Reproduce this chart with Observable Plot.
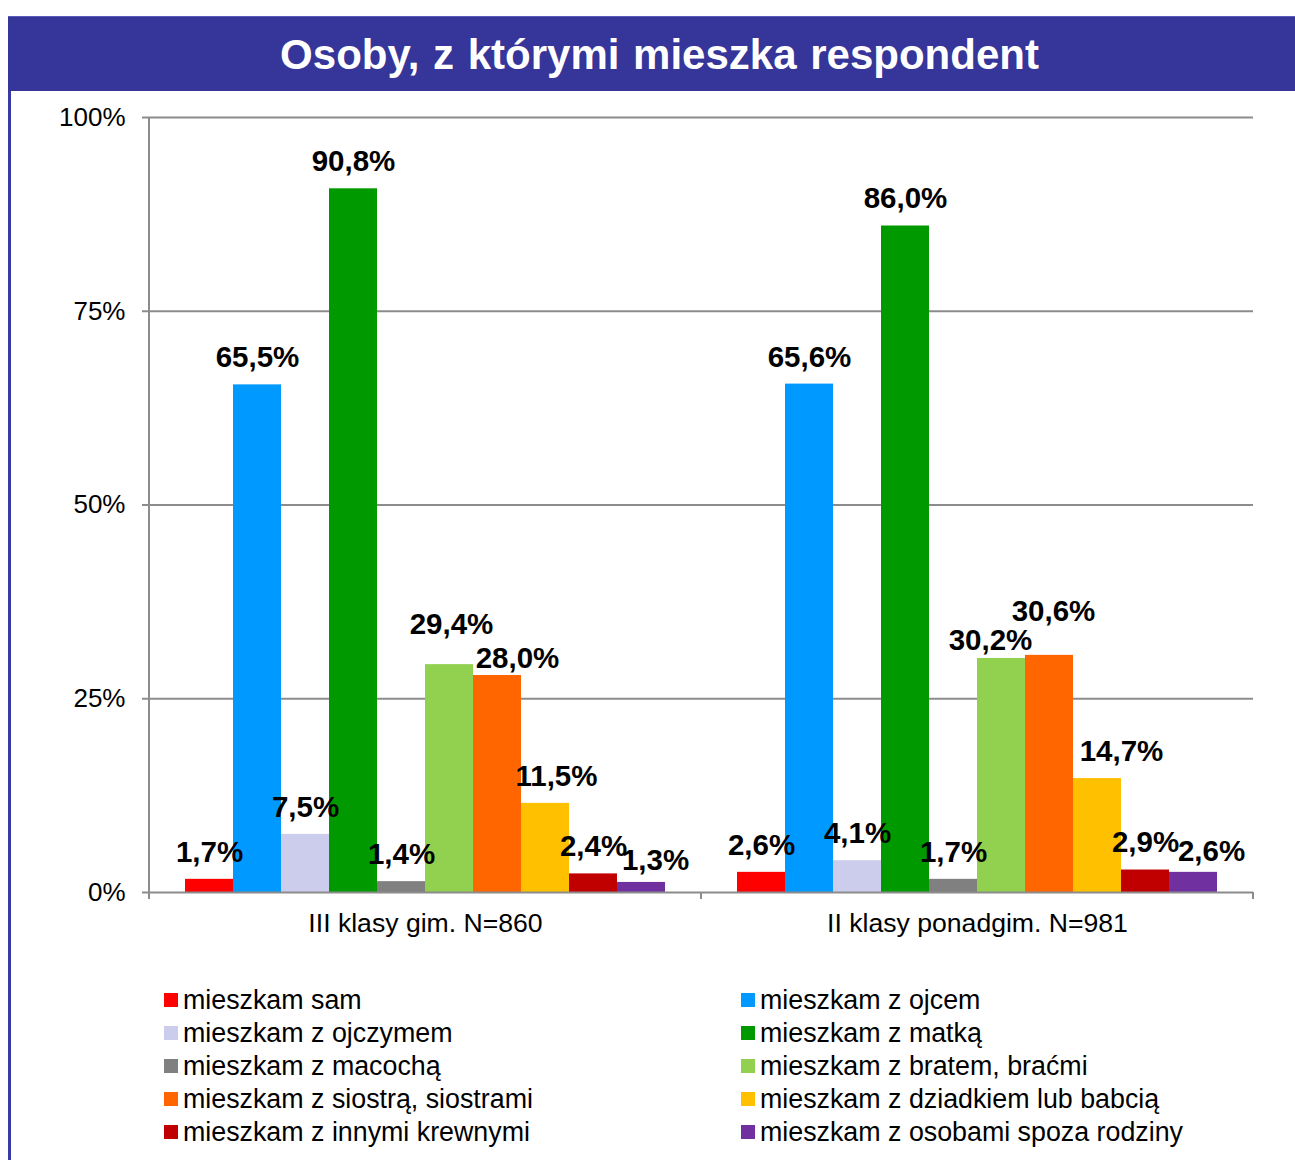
<!DOCTYPE html>
<html>
<head>
<meta charset="utf-8">
<script src="https://cdn.jsdelivr.net/npm/d3@7"></script>
<script src="https://cdn.jsdelivr.net/npm/@observablehq/plot@0.6"></script>
<style>
  html, body { margin: 0; padding: 0; background: #fff; }
  body { width: 1295px; height: 1160px; position: relative; overflow: hidden; font-family: "Liberation Sans", Arial, sans-serif; }
  #titlebar { position: absolute; left: 8px; top: 16px; width: 1287px; height: 75px; padding-left: 16px; background: #35359a; border-top: 1px solid #5a5ab8; box-sizing: border-box; color: #fff; font-weight: bold; font-size: 42px; text-align: center; line-height: 75px; word-spacing: 2px; }
  #leftborder { position: absolute; left: 8px; top: 91px; width: 3px; height: 1069px; background: #3a3aa6; }
  #chart { position: absolute; left: 0; top: 0; }
  .leg { position: absolute; font-size: 26.8px; color: #000; white-space: nowrap; }
  .leg .sw { position: absolute; left: 0; top: 50%; width: 14px; height: 14px; margin-top: -7px; }
  .leg .tx { position: absolute; left: 19px; top: 50%; transform: translateY(-50%); line-height: 1; }
</style>
</head>
<body>
<div id="chart"></div>
<div id="titlebar">Osoby, z którymi mieszka respondent</div>
<div id="leftborder"></div>
<div id="legend"></div>
<script>
const groups = ["III klasy gim. N=860", "II klasy ponadgim. N=981"];
const series = [
  "mieszkam sam",
  "mieszkam z ojcem",
  "mieszkam z ojczymem",
  "mieszkam z matką",
  "mieszkam z macochą",
  "mieszkam z bratem, braćmi",
  "mieszkam z siostrą, siostrami",
  "mieszkam z dziadkiem lub babcią",
  "mieszkam z innymi krewnymi",
  "mieszkam z osobami spoza rodziny"
];
const colors = ["#ff0000", "#0099ff", "#ccccec", "#009900", "#808080", "#92d050", "#ff6600", "#ffc000", "#c00000", "#7030a0"];
const valuesGim = [1.7, 65.5, 7.5, 90.8, 1.4, 29.4, 28.0, 11.5, 2.4, 1.3];
const valuesPonadgim = [2.6, 65.6, 4.1, 86.0, 1.7, 30.2, 30.6, 14.7, 2.9, 2.6];
const yTicks = [0, 25, 50, 75, 100];

const groupValues = [valuesGim, valuesPonadgim];
const data = groups.flatMap((g, gi) => series.map((s, si) => ({group: g, gi, series: s, si, value: groupValues[gi][si]})));
const fmt = v => v.toFixed(1).replace(".", ",") + "%";

// label nudges (styling only: hand-moved labels in the original)
const nudges = [
  {gi: 0, si: 5, dx: 2, dy: -40},
  {gi: 0, si: 6, dx: 20, dy: -17},
  {gi: 0, si: 7, dx: 11, dy: -27},
  {gi: 0, si: 9, dx: 14, dy: -22},
  {gi: 1, si: 5, dx: -11, dy: -18},
  {gi: 1, si: 6, dx: 4, dy: -44},
  {gi: 1, si: 7, dx: 24, dy: -27},
  {gi: 1, si: 9, dx: 18, dy: -21}
];
const isNudged = d => nudges.some(n => n.gi === d.gi && n.si === d.si);

const labelStyle = {fx: "group", x: "series", y: "value", text: d => fmt(d.value), fontSize: 29.5, fontWeight: "bold", fill: "#000", lineAnchor: "middle"};

const chart = Plot.plot({
  width: 1295,
  height: 950,
  marginTop: 117,
  marginBottom: 58,
  marginLeft: 148,
  marginRight: 42,
  style: {fontFamily: "'Liberation Sans', Arial, sans-serif", background: "transparent", color: "#000", overflow: "visible"},
  fx: {domain: groups, padding: 0, axis: null, label: null},
  x: {domain: series, paddingInner: 0, paddingOuter: 0.75, axis: null},
  y: {domain: [0, 100], axis: null},
  color: {domain: series, range: colors},
  marks: [
    Plot.ruleY(yTicks.slice(1), {stroke: "#8c8c8c", strokeWidth: 2}),
    Plot.barY(data, {fx: "group", x: "series", y: "value", fill: "series", inset: 0}),
    Plot.ruleY([0], {stroke: "#8c8c8c", strokeWidth: 2}),
    Plot.axisY({ticks: yTicks, tickFormat: d => d + "%", tickSize: 7, tickPadding: 17, fontSize: 26, stroke: "#8c8c8c", strokeWidth: 2, fill: "#000", label: null}),
    Plot.axisFx({anchor: "bottom", tickSize: 0, tickPadding: 21, fontSize: 26.6, fill: "#000", label: null}),
    Plot.text(data, {...labelStyle, dy: -27, filter: d => !isNudged(d)}),
    ...nudges.map(n => Plot.text(data, {...labelStyle, dx: n.dx, dy: n.dy, filter: d => d.gi === n.gi && d.si === n.si}))
  ]
});
document.getElementById("chart").appendChild(chart);

// y-axis line and category boundary ticks, placed from the chart's own scales
const fx = chart.scale("fx");
const y = chart.scale("y");
const svg = d3.select(chart);
const y0 = y.apply(0), y100 = y.apply(100);
const left = fx.apply(groups[0]);
svg.append("line").attr("x1", left).attr("x2", left).attr("y1", y100).attr("y2", y0 + 7)
  .attr("stroke", "#8c8c8c").attr("stroke-width", 2);
const edges = [fx.apply(groups[1]), fx.apply(groups[1]) + fx.bandwidth];
edges.forEach(e => svg.append("line").attr("x1", e).attr("x2", e).attr("y1", y0).attr("y2", y0 + 7)
  .attr("stroke", "#8c8c8c").attr("stroke-width", 2));

// legend (two columns, row-major order)
const legend = d3.select("#legend");
series.forEach((s, i) => {
  const col = i % 2, row = Math.floor(i / 2);
  const item = legend.append("div").attr("class", "leg")
    .style("left", (col === 0 ? 164 : 741) + "px")
    .style("top", (1000 + row * 33 - 16) + "px")
    .style("height", "32px").style("width", "500px");
  item.append("div").attr("class", "sw").style("background", colors[i]);
  item.append("div").attr("class", "tx").text(s);
});
</script>
</body>
</html>
